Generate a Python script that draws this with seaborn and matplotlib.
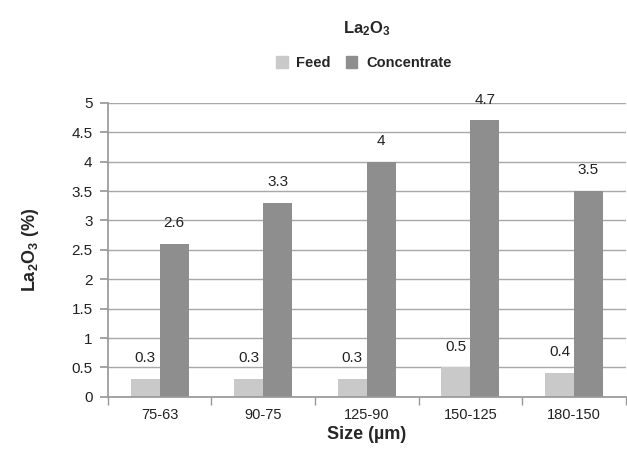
import matplotlib
matplotlib.use("Agg")
import matplotlib.pyplot as plt
import seaborn as sns
import pandas as pd
import numpy as np

# data
sizes = ["75-63", "90-75", "125-90", "150-125", "180-150"]
feed = [0.3, 0.3, 0.3, 0.5, 0.4]
concentrate = [2.6, 3.3, 4.0, 4.7, 3.5]

df = pd.DataFrame({
    "Size": sizes * 2,
    "value": feed + concentrate,
    "kind": ["Feed"] * len(sizes) + ["Concentrate"] * len(sizes),
})

sns.set_theme(style="white")
plt.rcParams["font.family"] = ["Liberation Sans", "DejaVu Sans"]
plt.rcParams["mathtext.fontset"] = "custom"
plt.rcParams["mathtext.rm"] = "Liberation Sans"
plt.rcParams["mathtext.bf"] = "Liberation Sans:bold"

fig = plt.figure(figsize=(6.27, 4.51), dpi=100)
ax = fig.add_axes([0.172, 0.12, 0.826, 0.652])

palette = {"Feed": "#c9c9c9", "Concentrate": "#8e8e8e"}
sns.barplot(data=df, x="Size", y="value", hue="kind", palette=palette,
            width=0.56, gap=0, saturation=1, linewidth=0, ax=ax, legend=False)

# value labels
for cont in ax.containers:
    labels = ["{:g}".format(b.get_height()) for b in cont]
    ax.bar_label(cont, labels=labels, padding=10, fontsize=11, color="#222222")

ax.set_ylim(0, 5)
ax.set_xlim(-0.5, 4.5)
yt = np.arange(0, 5.01, 0.5)
ax.set_yticks(yt)
ax.set_yticklabels(["{:g}".format(v) for v in yt])
ax.yaxis.grid(True, color="#a8a8a8", linewidth=1)
ax.set_axisbelow(True)

for s in ["top", "right"]:
    ax.spines[s].set_visible(False)
ax.spines["left"].set_color("#999999")
ax.spines["bottom"].set_color("#999999")

ax.tick_params(axis="y", left=True, length=6, color="#999999", labelsize=11,
               labelcolor="#222222", pad=5)
ax.tick_params(axis="x", which="major", length=0, labelsize=10.5,
               labelcolor="#222222", pad=8)
ax.set_xticks(np.arange(-0.5, 4.6, 1), minor=True)
ax.tick_params(axis="x", which="minor", bottom=True, length=6, color="#999999")

ax.set_xlabel("Size (µm)", fontsize=13, fontweight="bold", labelpad=3)
ax.set_ylabel(r"$\mathbf{La_2O_3}$ (%)", fontsize=13, fontweight="bold", labelpad=22)

fig.text(0.585, 1 - 29 / 451, r"$\mathbf{La_2O_3}$", ha="center", va="center",
         fontsize=12, fontweight="bold")

handles = [plt.Rectangle((0, 0), 1, 1, color=palette[k]) for k in ["Feed", "Concentrate"]]
fig.legend(handles, ["Feed", "Concentrate"], loc="center",
           bbox_to_anchor=(0.58, 1 - 63 / 451),
           ncol=2, frameon=False, prop={"weight": "bold", "size": 10.5},
           handlelength=0.8, handleheight=0.8, columnspacing=1.0, handletextpad=0.6)

fig.savefig("out.png", dpi=100)
